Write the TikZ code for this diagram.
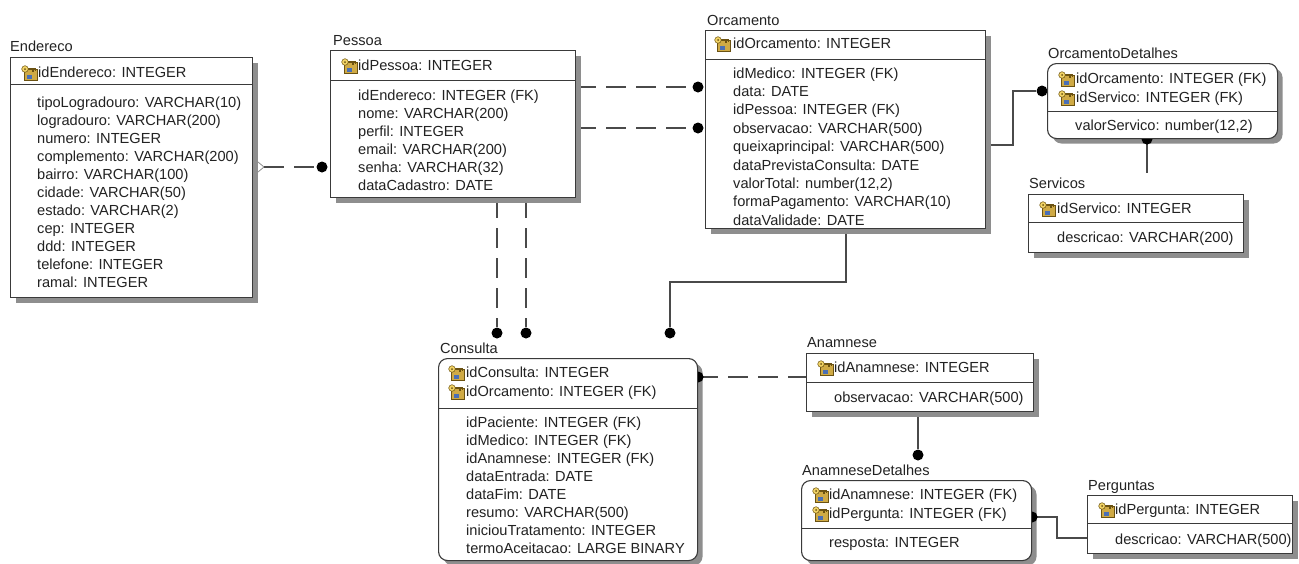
\documentclass[tikz,border=0pt]{standalone}
\usepackage{fontspec}
\setmainfont{Liberation Sans}
\usetikzlibrary{shadows}

\definecolor{ink}{HTML}{222222}
\definecolor{edge}{HTML}{3A3A3A}
\definecolor{conn}{HTML}{4A4A4A}
\definecolor{shade}{HTML}{8E8E8E}
\definecolor{keycard}{HTML}{CFAA45}
\definecolor{keyline}{HTML}{6B5212}
\definecolor{keygold}{HTML}{F2D466}
\definecolor{keyblue}{HTML}{4A6FB5}

\pgfdeclarelayer{links}
\pgfsetlayers{links,main}

\tikzset{
  tbl/.style={draw=edge, line width=1.1pt, fill=white, inner sep=0pt, anchor=north west,
    drop shadow={shadow xshift=5pt, shadow yshift=-5pt, fill=shade, opacity=1}},
  rtbl/.style={tbl, rounded corners=9pt},
  cell/.style={anchor=base west, inner sep=0pt, text=ink, font=\fontsize{14.6}{17}\selectfont},
  divider/.style={draw=edge, line width=1pt},
  rel/.style={draw=conn, line width=1.2pt},
  relopt/.style={rel, dash pattern=on 20pt off 10pt},
  dotn/.style={circle, fill=black, inner sep=0pt, minimum size=11pt},
  halfdot/.style={fill=black},
  keyic/.pic={
    \fill[keycard] (3,4) rectangle (16,15);
    \draw[keyline, line width=0.5pt] (3,4) rectangle (16,15);
    \fill[keyblue] (6,10) rectangle (11,14);
    \draw[keyline, line width=1.6pt] (7,4) -- (15,4);
    \draw[keyline, line width=1.1pt] (12,4) -- (12,6.5) (14.5,4) -- (14.5,6);
    \fill[keygold, draw=keyline, line width=0.5pt] (4,4) circle[radius=3.3pt];
    \fill[keyline] (4,4) circle[radius=1pt];
  }
}

\begin{document}
\begin{tikzpicture}[x=1pt, y=-1pt]
\useasboundingbox (0,0) rectangle (1299,563);

% ---------------- Endereco ----------------
\node[cell] (t-end) at (10,51) {Endereco};
\node[tbl, minimum width=242pt, minimum height=240pt] (endereco) at (10,57) {};
\draw[divider] (endereco.west |- 0,84) -- (endereco.east |- 0,84);
\pic at (21,65) {keyic};
\node[cell] (end-k) at (38,77) {idEndereco: INTEGER};
\foreach \t [count=\i] in {tipoLogradouro: VARCHAR(10), logradouro: VARCHAR(200),
    numero: INTEGER, complemento: VARCHAR(200), bairro: VARCHAR(100),
    cidade: VARCHAR(50), estado: VARCHAR(2), cep: INTEGER, ddd: INTEGER,
    telefone: INTEGER, ramal: INTEGER}
  \node[cell] (end-\i) at (37,{107+18*(\i-1)}) {\t};

% ---------------- Pessoa ----------------
\node[cell] (t-pes) at (333,45) {Pessoa};
\node[tbl, minimum width=245pt, minimum height=147pt] (pessoa) at (330,50) {};
\draw[divider] (pessoa.west |- 0,80) -- (pessoa.east |- 0,80);
\pic at (341,58) {keyic};
\node[cell] (pes-k) at (358,70) {idPessoa: INTEGER};
\foreach \t [count=\i] in {idEndereco: INTEGER (FK), nome: VARCHAR(200),
    perfil: INTEGER, email: VARCHAR(200), senha: VARCHAR(32), dataCadastro: DATE}
  \node[cell] (pes-\i) at (358,{100+18*(\i-1)}) {\t};

% ---------------- Orcamento ----------------
\node[cell] (t-orc) at (707,25) {Orcamento};
\node[tbl, minimum width=280pt, minimum height=198pt] (orcamento) at (705,30) {};
\draw[divider] (orcamento.west |- 0,59) -- (orcamento.east |- 0,59);
\pic at (714,36) {keyic};
\node[cell] (orc-k) at (733,48) {idOrcamento: INTEGER};
\foreach \t [count=\i] in {idMedico: INTEGER (FK), data: DATE, idPessoa: INTEGER (FK),
    observacao: VARCHAR(500), queixaprincipal: VARCHAR(500),
    dataPrevistaConsulta: DATE, {valorTotal: number(12,2)},
    formaPagamento: VARCHAR(10), dataValidade: DATE}
  \node[cell] (orc-\i) at (733,{78+18.4*(\i-1)}) {\t};

% ---------------- OrcamentoDetalhes ----------------
\node[cell] (t-odt) at (1048,58) {OrcamentoDetalhes};
\node[rtbl, minimum width=230pt, minimum height=75pt] (orcdet) at (1047,63) {};
\draw[divider] (orcdet.west |- 0,111) -- (orcdet.east |- 0,111);
\pic at (1058,71) {keyic};
\pic at (1058,90) {keyic};
\node[cell] (odt-k1) at (1076,83) {idOrcamento: INTEGER (FK)};
\node[cell] (odt-k2) at (1076,102) {idServico: INTEGER (FK)};
\node[cell] (odt-1) at (1075,130) {valorServico: number(12,2)};

% ---------------- Servicos ----------------
\node[cell] (t-ser) at (1029,188) {Servicos};
\node[tbl, minimum width=215pt, minimum height=58pt] (servicos) at (1028,194) {};
\draw[divider] (servicos.west |- 0,222) -- (servicos.east |- 0,222);
\pic at (1039,201) {keyic};
\node[cell] (ser-k) at (1057,213) {idServico: INTEGER};
\node[cell] (ser-1) at (1057,242) {descricao: VARCHAR(200)};

% ---------------- Consulta ----------------
\node[cell] (t-con) at (440,353) {Consulta};
\node[rtbl, minimum width=259pt, minimum height=202pt] (consulta) at (438,358) {};
\draw[divider] (consulta.west |- 0,408) -- (consulta.east |- 0,408);
\pic at (448,365) {keyic};
\pic at (448,384) {keyic};
\node[cell] (con-k1) at (466,377) {idConsulta: INTEGER};
\node[cell] (con-k2) at (466,396) {idOrcamento: INTEGER (FK)};
\foreach \t [count=\i] in {idPaciente: INTEGER (FK), idMedico: INTEGER (FK),
    idAnamnese: INTEGER (FK), dataEntrada: DATE, dataFim: DATE,
    resumo: VARCHAR(500), iniciouTratamento: INTEGER, termoAceitacao: LARGE BINARY}
  \node[cell] (con-\i) at (466,{427+18.1*(\i-1)}) {\t};

% ---------------- Anamnese ----------------
\node[cell] (t-ana) at (807,347) {Anamnese};
\node[tbl, minimum width=227pt, minimum height=58pt] (anamnese) at (806,353) {};
\draw[divider] (anamnese.west |- 0,382) -- (anamnese.east |- 0,382);
\pic at (817,360) {keyic};
\node[cell] (ana-k) at (834,372) {idAnamnese: INTEGER};
\node[cell] (ana-1) at (834,402) {observacao: VARCHAR(500)};

% ---------------- AnamneseDetalhes ----------------
\node[cell] (t-adt) at (802,475) {AnamneseDetalhes};
\node[rtbl, minimum width=230pt, minimum height=80pt] (anadet) at (801,480) {};
\draw[divider] (anadet.west |- 0,528) -- (anadet.east |- 0,528);
\pic at (812,487) {keyic};
\pic at (812,506) {keyic};
\node[cell] (adt-k1) at (829,499) {idAnamnese: INTEGER (FK)};
\node[cell] (adt-k2) at (829,518) {idPergunta: INTEGER (FK)};
\node[cell] (adt-1) at (829,547) {resposta: INTEGER};

% ---------------- Perguntas ----------------
\node[cell] (t-per) at (1088,490) {Perguntas};
\node[tbl, minimum width=205pt, minimum height=58pt] (perguntas) at (1087,495) {};
\draw[divider] (perguntas.west |- 0,523) -- (perguntas.east |- 0,523);
\pic at (1098,502) {keyic};
\node[cell] (per-k) at (1115,514) {idPergunta: INTEGER};
\node[cell] (per-1) at (1115,544) {descricao: VARCHAR(500)};

% half dots sitting on the edges of the dependent (rounded) tables
\coordinate (dE) at (orcdet.south -| 1147,0);
\coordinate (dF) at (consulta.east |- 0,377);
\coordinate (dH) at (anadet.east |- 0,517);
\fill[halfdot] ([xshift=-5.5pt]dE) arc[start angle=180, end angle=360, radius=5.5pt] -- cycle;
\fill[halfdot] ([yshift=5.5pt]dF) arc[start angle=90, end angle=-90, radius=5.5pt] -- cycle;
\fill[halfdot] ([yshift=5.5pt]dH) arc[start angle=90, end angle=-90, radius=5.5pt] -- cycle;

% ---------------- relationships (behind the tables) ----------------
\begin{pgfonlayer}{links}
  % Endereco - Pessoa
  \node[dotn] (dA) at (322,167) {};
  \coordinate (chevtip) at (264,167);
  \draw[draw=black!45, line width=0.8pt] (258,162) -- (chevtip) -- (258,172);
  \draw[relopt] (chevtip) -- (dA);
  % Pessoa - Orcamento
  \node[dotn] (dB1) at (698,87) {};
  \node[dotn] (dB2) at (698,128) {};
  \draw[relopt] (pessoa.east |- dB1) -- (dB1);
  \draw[relopt] (pessoa.east |- dB2) -- (dB2);
  % Pessoa - Consulta
  \node[dotn] (dC1) at (497,333) {};
  \node[dotn] (dC2) at (526,333) {};
  \draw[relopt] (pessoa.south -| dC1) -- (dC1);
  \draw[relopt] (pessoa.south -| dC2) -- (dC2);
  % Orcamento - Consulta
  \node[dotn] (dC3) at (670,333) {};
  \draw[rel] (orcamento.south -| 846,0) -- (846,282) -| (dC3);
  % Orcamento - OrcamentoDetalhes
  \node[dotn] (dD) at (1042,91) {};
  \draw[rel] (orcamento.east |- 0,145) -- (1013,145) -- (1013,91) -- (dD);
  % OrcamentoDetalhes - Servicos
  \coordinate (sEnd) at (1147,173);
  \draw[rel] (dE) -- (sEnd);
  % Consulta - Anamnese
  \draw[relopt] (dF) -- (anamnese.west |- dF);
  % Anamnese - AnamneseDetalhes
  \node[dotn] (dG) at (918,455) {};
  \draw[rel] (anamnese.south -| dG) -- (dG);
  % AnamneseDetalhes - Perguntas
  \draw[rel] (dH) -- (1057,517) -- (1057,538) -- (perguntas.west |- 0,538);
\end{pgfonlayer}
\end{tikzpicture}
\end{document}
